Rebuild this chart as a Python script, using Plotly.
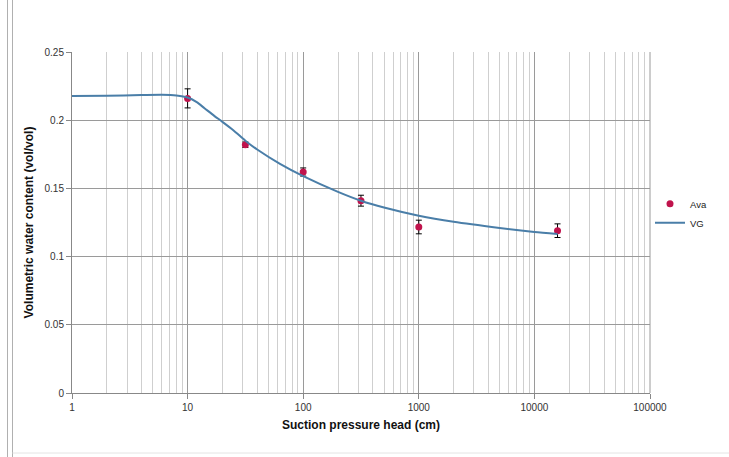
import plotly.graph_objects as go

# Measured retention data (suction head in cm, water content vol/vol)
ava_head = [10, 31.6, 100, 316, 1000, 15849]
ava_theta = [0.216, 0.182, 0.162, 0.141, 0.1217, 0.119]
ava_err = [0.007, 0.002, 0.003, 0.004, 0.005, 0.005]

# Van Genuchten fitted curve
vg_head = [1, 2, 4, 6, 8, 10, 12, 14, 17, 20, 25, 31.6, 40, 63, 100, 200,
           316, 500, 1000, 2000, 5000, 10000, 15849]
vg_theta = [0.2178, 0.2180, 0.2184, 0.2186, 0.2181, 0.2166, 0.2132, 0.2088,
            0.2032, 0.1988, 0.1925, 0.1850, 0.1785, 0.168, 0.159, 0.1475,
            0.141, 0.136, 0.130, 0.1255, 0.121, 0.118, 0.1165]

x_ticks = [1, 10, 100, 1000, 10000, 100000]
x_tick_text = ["1", "10", "100", "1000", "10000", "100000"]
y_ticks = [0, 0.05, 0.1, 0.15, 0.2, 0.25]
y_tick_text = ["0", "0.05", "0.1", "0.15", "0.2", "0.25"]

FONT = "Liberation Sans"

fig = go.Figure()
fig.add_trace(go.Scatter(
    x=ava_head, y=ava_theta, mode="markers", name="Ava",
    marker=dict(color="#C0134C", size=7),
    error_y=dict(type="data", array=ava_err, color="black", thickness=1, width=3),
))
fig.add_trace(go.Scatter(
    x=vg_head, y=vg_theta, mode="lines", name="VG",
    line=dict(color="#4A7EA8", width=2, shape="spline", smoothing=0.6),
))

L, R, T, B = 72, 79, 52, 64
W, H = 729, 457

fig.update_layout(
    width=W, height=H,
    margin=dict(l=L, r=R, t=T, b=B),
    paper_bgcolor="white", plot_bgcolor="white",
    font=dict(family=FONT, size=10, color="#333333"),
    showlegend=True,
    legend=dict(x=1.0, y=0.527, xanchor="left", yanchor="middle",
                font=dict(family=FONT, size=9.5, color="#222222"),
                bgcolor="rgba(0,0,0,0)", tracegroupgap=2, itemwidth=30),
    xaxis=dict(
        type="log", range=[0, 5],
        tickvals=x_ticks, ticktext=x_tick_text,
        ticks="outside", ticklen=5, tickcolor="#888888",
        showgrid=True, gridcolor="#9a9a9a", gridwidth=1,
        minor=dict(showgrid=True, gridcolor="#cfcfcf", gridwidth=1, dtick="D1"),
        showline=True, linecolor="#888888", linewidth=1,
        zeroline=False,
        title=dict(text="<b>Suction pressure head (cm)</b>",
                   font=dict(family=FONT, size=12, color="#111111"), standoff=8),
        tickfont=dict(size=10, color="#333333"),
    ),
    yaxis=dict(
        range=[0, 0.25],
        tickvals=y_ticks, ticktext=y_tick_text,
        ticks="outside", ticklen=5, tickcolor="#888888",
        showgrid=True, gridcolor="#9a9a9a", gridwidth=1,
        showline=True, linecolor="#888888", linewidth=1,
        zeroline=False,
        title=dict(text="<b>Volumetric water content (vol/vol)</b>",
                   font=dict(family=FONT, size=12, color="#111111"), standoff=8),
        tickfont=dict(size=10, color="#333333"),
    ),
)

# right edge of plot area
fig.add_shape(type="line", xref="paper", yref="paper", x0=1, x1=1, y0=0, y1=1,
              line=dict(color="#9a9a9a", width=1))

# chart-area frame lines on the left and bottom of the page
pw = W - L - R
ph = H - T - B
def px_to_paper_x(px):
    return (px - L) / pw
def px_to_paper_y(py):
    return (H - B - py) / ph
for xpx in (7.5, 12.5):
    fig.add_shape(type="line", xref="paper", yref="paper",
                  x0=px_to_paper_x(xpx), x1=px_to_paper_x(xpx),
                  y0=px_to_paper_y(0), y1=px_to_paper_y(H),
                  line=dict(color="#b0b0b0", width=1))
fig.add_shape(type="line", xref="paper", yref="paper",
              x0=px_to_paper_x(12.5), x1=px_to_paper_x(W),
              y0=px_to_paper_y(453), y1=px_to_paper_y(453),
              line=dict(color="#e4e4e4", width=1))

fig.write_html("out.html")
